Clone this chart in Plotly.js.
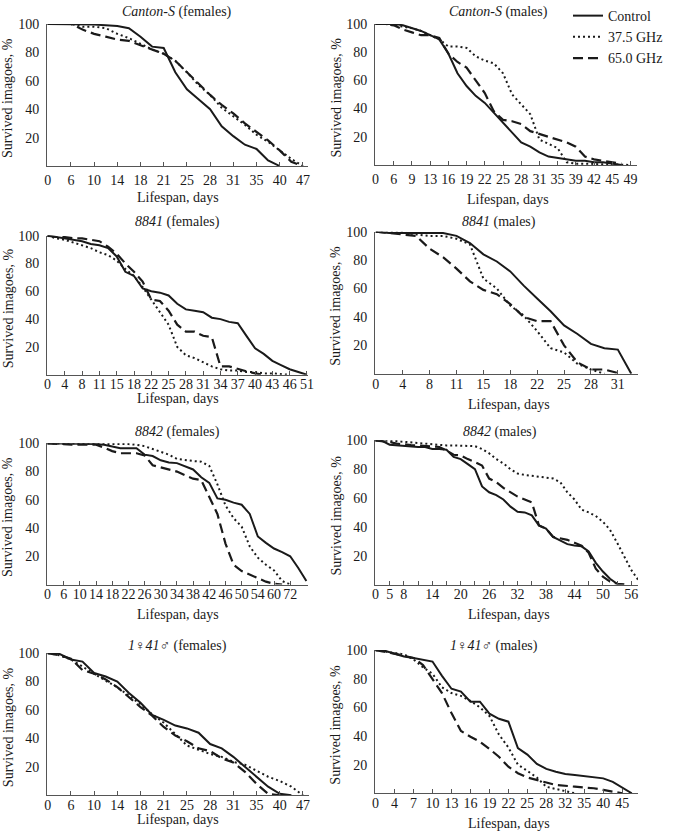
<!DOCTYPE html>
<html>
<head>
<meta charset="utf-8">
<script src="https://cdn.plot.ly/plotly-3.0.1.min.js"></script>
<style>
  html, body { margin: 0; padding: 0; background: #fff; }
  #chart { width: 685px; height: 834px; }
</style>
</head>
<body>
<div id="chart"></div>
<script>
// ---------- DATA (survival, % ; sampled every half tick-slot of each category axis) ----------
const seriesNames = ["Control", "37.5 GHz", "65.0 GHz"];

// Canton-S (females)
const cantonFemTicks = ["0","6","10","14","18","21","25","28","31","35","40","47"];
const cantonFemControl = [100,100,100,100,99.5,99,98.5,97,91,84,83,66,54,47,40,28,21,15,12,4,0];
const cantonFem375 = [100,100,100,98,98,97,93,90,86,82,79,74,66,57,50,41,35,29,22,17,11,5,0];
const cantonFem650 = [100,100,100,96,93,91,89,88,85,82,79,74,66,58,50,43,37,30,24,18,11,3,0];

// Canton-S (males)
const cantonMalTicks = ["0","6","9","13","16","19","22","25","28","31","35","39","42","45","49"];
const cantonMalControl = [100,100,100,99,97,95,92,89,79,65,56,49,44,37,30,23,16,13,9,6,5,4,3,3,2,2,1,0];
const cantonMal375 = [100,100,99,98,97,95,92,89,84,84,83,77,74,72,65,50,43,36,18,15,12,2,1,1,0.5,0.5,0.5,0,0];
const cantonMal650 = [100,100,99,96,94,92,92,90,79,73,69,60,51,38,32,31,29,24,22,20,18,16,13,6,4,3,2,1];

// 8841 (females)
const s8841FemTicks = ["0","4","8","11","15","18","22","25","28","31","34","37","40","43","46","51"];
const s8841FemControl = [100,99,98,97,96,94,93,91,85,74,71,62,60,59,57,51,47,46,45,41,40,38,37,28,19,15,10,7,4,2,0];
const s8841Fem375 = [100,98,97,95,93,91,88,86,82,76,71,63,54,45,36,20,14,12,9,6,4,3,3,2,2,1,1,0.5,0];
const s8841Fem650 = [100,99,99,98,98,97,96,92,87,80,74,67,54,53,46,36,31,31,28,27,6,6,4,2.5,1,0];

// 8841 (males)
const s8841MalTicks = ["0","4","8","11","15","18","22","25","28","31"];
const s8841MalControl = [100,99,99,99,99,99,97,92,84,79,72,62,53,44,34,28,21,18,17,0];
const s8841Mal375 = [100,100,99.5,98,97,97,95,91,67,60,48,41,30,18,15,7,3,0];
const s8841Mal650 = [100,99,98,97,88,82,74,65,59,56,49,40,37,37,20,8,3,3,0.5];

// 8842 (females)
const s8842FemTicks = ["0","6","10","14","18","22","26","30","34","38","42","46","50","54","60","72"];
const s8842FemControl = [100,100,100,100,99.5,99.5,99.5,99,98,96.5,96.5,96.5,92,91,88,86.5,86,84,81.5,76,72,61,60,58,56.5,50,34,29.5,25.5,23,20,11.7,2.5];
const s8842Fem375 = [100,100,100,100,100,100,100,100,100,99.5,99.5,99,98,96,94,92,89,88,87.5,87,84,71,56,47,41,27,19,14,10,2.5,0];
const s8842Fem650 = [100,100,99.5,99,99,99,99,97,94.5,93,93,93,91.5,84.5,83,81.5,80,77.5,75,74,62,50,29,14,9.5,7,4.5,2,0.5,0];

// 8842 (males)
const s8842MalTicks = ["0","5","8","","14","","20","","26","","32","","38","","44","","50","","56"];
const s8842MalControl = [100,99.5,97,96.5,96.5,96,95.4,95.4,94,94,93.5,88.5,87,83.5,80,68,64,62,59,54,50.5,50,48,41,38.8,33,30.5,28,27,26.5,23,15,9,4,0.5,0];
const s8842Mal375 = [100,100,100,99.5,99,98.5,98,97.5,97,97,96.5,96.5,96.5,96.5,96,94,91,87,84,80,77,76,75.5,75,74.5,73.5,71,64,59,52,50,47.5,43.5,38,29,20,10,3];
const s8842Mal650 = [100,99.5,98.8,97.7,97,96.8,96.5,96,95.8,95.4,93,90,89.6,87,85,82.5,73.5,71,67,64,61,59,57,41,38.8,33,32,31,29,27,22,11,5.5,2,0.5,0];

// 1♀41♂ (females)
const s141FemTicks = ["0","6","10","14","18","21","25","28","31","35","40","47"];
const s141FemControl = [100,99.5,95.5,94,86,83.5,80,72,65,56.5,53,49,47,44,36,33,27,20,13,6,1,0];
const s141Fem375 = [100,98.5,95.5,90.5,85,80.5,76,70,64,57,51,43,35,32,29,27,23.5,21.5,17,13,10,6,0];
const s141Fem650 = [100,98.5,96,88,85.5,81.5,76,69,62,56,48,42,38,33,31,26,23,16.5,8,1,0];

// 1♀41♂ (males)
const s141MalTicks = ["0","4","7","10","13","16","19","22","25","28","32","35","40","45"];
const s141MalControl = [100,99.5,97.5,95.5,94.5,93.5,92,82,73,71,64,64,55.6,52,50,31.5,27,20.5,17,15,13.5,12.7,12,11.3,10.4,8,4,0];
const s141Mal375 = [100,99,98,97,93.5,88,83.5,74,70,68,64.5,60,54,41,32,20,15.6,11,4.5,3,2,0];
const s141Mal650 = [100,99,97.5,96,94.5,89.5,80,70,56,43.5,39.5,36,31,25.5,18.5,14,11,9,7.5,5.8,5,4.6,4,3.5,2.3,1,0];

const yTickVals = [20, 40, 60, 80, 100];

// ---------- LAYOUT SETTINGS ----------
const W = 685, H = 834;
const FONT = '"Liberation Serif", "Times New Roman", serif';
const INK = '#1a1a1a';
const SAMPLE_STEP = 0.5; // data sampled every half tick slot

const panels = [
  {ticks: cantonFemTicks, data: [cantonFemControl, cantonFem375, cantonFem650], xEnd: 11.22, box: [47,308,19,162], so: 1,
   title: '<i>Canton-S</i> (females)', tx: 177, ty: 7, lx: 178, ly: 194, yx: 8},
  {ticks: cantonMalTicks, data: [cantonMalControl, cantonMal375, cantonMal650], xEnd: 14.36, box: [375,637,19,161], so: 1,
   title: '<i>Canton-S</i> (males)', tx: 498, ty: 7, lx: 508, ly: 196, yx: 336},
  {ticks: s8841FemTicks, data: [s8841FemControl, s8841Fem375, s8841Fem650], xEnd: 15.06, box: [47,308,232,372], so: -4,
   title: '<i>8841</i> (females)', tx: 177, ty: 218, lx: 178, ly: 396, yx: 8},
  {ticks: s8841MalTicks, data: [s8841MalControl, s8841Mal375, s8841Mal650], xEnd: 9.75, box: [375,638,228,371], so: -3,
   title: '<i>8841</i> (males)', tx: 499, ty: 218, lx: 509, ly: 402, yx: 336},
  {ticks: s8842FemTicks, data: [s8842FemControl, s8842Fem375, s8842Fem650], xEnd: 16.1, box: [47,308,441,583], so: -3,
   title: '<i>8842</i> (females)', tx: 177, ty: 430, lx: 178, ly: 613, yx: 8},
  {ticks: s8842MalTicks, data: [s8842MalControl, s8842Mal375, s8842Mal650], xEnd: 18.47, box: [375,638,438,583], so: -3,
   title: '<i>8842</i> (males)', tx: 500, ty: 430, lx: 509, ly: 613, yx: 336},
  {ticks: s141FemTicks, data: [s141FemControl, s141Fem375, s141Fem650], xEnd: 11.26, box: [47,309,652,795], so: -3,
   title: '<i>1♀41♂</i> (females)', tx: 177, ty: 645, lx: 178, ly: 819, yx: 8},
  {ticks: s141MalTicks, data: [s141MalControl, s141Mal375, s141Mal650], xEnd: 13.83, box: [375,638,649,793], so: -3,
   title: '<i>1♀41♂</i> (males)', tx: 494, ty: 645, lx: 509, ly: 823, yx: 336}
];

const lineStyles = [
  {color: INK, width: 2, dash: 'solid'},
  {color: INK, width: 2, dash: '2px,3px'},
  {color: INK, width: 2.2, dash: '10px,5px'}
];

const px2x = p => p / W;
const px2y = p => 1 - p / H;

const traces = [];
const layout = {
  width: W, height: H,
  margin: {l: 0, r: 0, t: 0, b: 0},
  paper_bgcolor: '#fff', plot_bgcolor: '#fff',
  font: {family: FONT, size: 14, color: INK},
  showlegend: true,
  legend: {
    x: px2x(568), y: px2y(-5), xanchor: 'left', yanchor: 'top',
    bgcolor: 'rgba(0,0,0,0)', borderwidth: 0,
    font: {family: FONT, size: 14, color: INK},
    tracegroupgap: 0, itemwidth: 30
  },
  annotations: []
};

panels.forEach((p, k) => {
  const n = k + 1;
  const xa = 'x' + (n === 1 ? '' : n), ya = 'y' + (n === 1 ? '' : n);
  const xKey = 'xaxis' + (n === 1 ? '' : n), yKey = 'yaxis' + (n === 1 ? '' : n);
  p.data.forEach((vals, s) => {
    traces.push({
      type: 'scatter', mode: 'lines',
      x: vals.map((_, i) => i * SAMPLE_STEP), y: vals,
      xaxis: xa, yaxis: ya,
      name: seriesNames[s], legendgroup: seriesNames[s],
      showlegend: k === 0,
      line: Object.assign({shape: 'linear'}, lineStyles[s]),
      hoverinfo: 'skip'
    });
  });
  const [x0, x1, y0, y1] = p.box;
  layout[xKey] = {
    domain: [px2x(x0), px2x(x1)], anchor: ya,
    range: [-0.03, p.xEnd], showgrid: false, zeroline: false,
    showline: true, linecolor: '#555', linewidth: 1,
    tickmode: 'array', tickvals: p.ticks.map((_, i) => i), ticktext: p.ticks,
    ticks: 'inside', ticklen: 4, tickcolor: '#555', tickwidth: 1,
    tickfont: {family: FONT, size: 14, color: INK}, ticklabelstandoff: p.so,
    fixedrange: true
  };
  layout[yKey] = {
    domain: [px2y(y1), px2y(y0)], anchor: xa,
    range: [0, 100], showgrid: false, zeroline: false,
    showline: true, linecolor: '#555', linewidth: 1,
    tickmode: 'array', tickvals: yTickVals, ticks: '',
    tickfont: {family: FONT, size: 14, color: INK}, ticklabelstandoff: 4,
    fixedrange: true
  };
  layout.annotations.push({
    xref: 'paper', yref: 'paper', x: px2x(p.tx), y: px2y(p.ty),
    xanchor: 'center', yanchor: 'middle', showarrow: false,
    text: p.title, font: {family: FONT, size: 14, color: INK}
  });
  layout.annotations.push({
    xref: 'paper', yref: 'paper', x: px2x(p.lx), y: px2y(p.ly),
    xanchor: 'center', yanchor: 'middle', showarrow: false,
    text: 'Lifespan, days', font: {family: FONT, size: 14, color: INK}
  });
  layout.annotations.push({
    xref: 'paper', yref: 'paper', x: px2x(p.yx), y: px2y((y0 + y1) / 2 + 3),
    xanchor: 'center', yanchor: 'middle', showarrow: false, textangle: -90,
    text: 'Survived imagoes, %', font: {family: FONT, size: 14, color: INK}
  });
});

Plotly.newPlot('chart', traces, layout, {displayModeBar: false, staticPlot: true});
</script>
</body>
</html>
